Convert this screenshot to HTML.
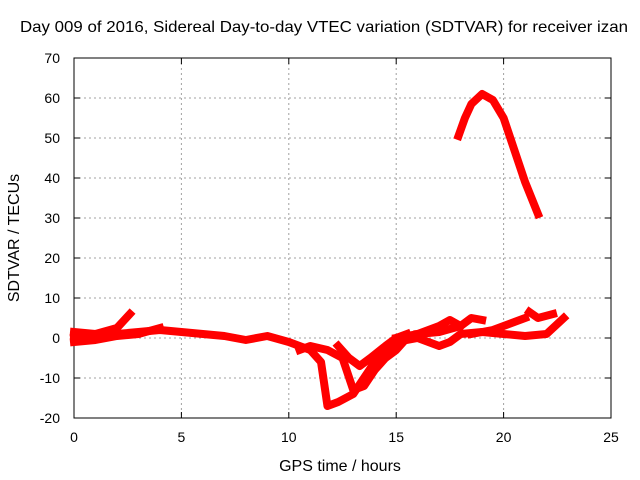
<!DOCTYPE html>
<html><head><meta charset="utf-8"><style>
body{margin:0;background:#fff}
svg{display:block;font-family:"Liberation Sans",sans-serif;font-size:14px}
</style></head><body>
<svg id="chart" width="640" height="480" viewBox="0 0 640 480">
<rect width="640" height="480" fill="#fff"/>
<text x="20" y="32" font-size="16" textLength="608" lengthAdjust="spacingAndGlyphs">Day 009 of 2016, Sidereal Day-to-day VTEC variation (SDTVAR) for receiver izan</text>
<g id="grid"></g><g id="axes"></g><g id="series"></g>
<text x="340" y="471" text-anchor="middle" font-size="16">GPS time / hours</text>
<text transform="translate(19,238) rotate(-90)" text-anchor="middle" font-size="16">SDTVAR / TECUs</text>
</svg>
<script>
const xTicks=[0,5,10,15,20,25];
const yTicks=[-20,-10,0,10,20,30,40,50,60,70];
const seriesTop=[[17.9,50.5],[18.2,55],[18.5,58.5],[19,61],[19.5,59.5],[20,55],[20.5,47],[21,39],[21.6,31]];
const seriesMain=[[0,0],[1,0.5],[2,1],[3,1.5],[4,2],[5,1.5],[6,1],[7,0.5],[8,-0.5],[9,0.5],[10,-1],[10.5,-2],[11,-3],[11.5,-6],[11.8,-17],[12.3,-16],[13,-14],[13.5,-10],[14,-6],[14.5,-4],[15,-1],[16,0],[17,-2],[17.5,-1],[18,1],[19,1.5],[20,1],[21,0.5],[22,1],[22.8,5]];
const seriesLow=[[0,-1],[1,-0.5],[2,0.5],[3,1],[4,2.5]];
const seriesEarly=[[0,1.5],[1,1],[2,2.5],[2.6,6]];
const seriesDip2=[[10.5,-3],[11,-2],[11.8,-3],[12.5,-5],[13,-13],[13.5,-12],[14,-8],[14.5,-5],[15,-3],[15.5,0]];
const seriesDip3=[[12.3,-2],[12.8,-5],[13.3,-7],[13.8,-5],[14.5,-2],[15,0],[15.5,1]];
const seriesE=[[15,0],[16,1],[17,3],[17.5,4.5],[18,3]];
const seriesF=[[16,1],[17,1.5],[18,3],[18.5,5],[19,4.5]];
const seriesG=[[18.5,1],[19.5,2],[20.5,4],[21,5]];
const seriesH=[[21.2,6.5],[21.6,5],[22.3,6]];
const seriesList=[seriesTop,seriesMain,seriesLow,seriesEarly,seriesDip2,seriesDip3,seriesE,seriesF,seriesG,seriesH];
const X=v=>74+v*(537/25), Y=v=>418-(v+20)*4;
const ns="http://www.w3.org/2000/svg";
const grid=document.getElementById('grid'),axes=document.getElementById('axes'),ser=document.getElementById('series');
function mk(tag,at,p){const e=document.createElementNS(ns,tag);for(const k in at)e.setAttribute(k,at[k]);p.appendChild(e);return e;}
xTicks.forEach(t=>{
 if(t>0&&t<25){const l=mk('line',{x1:X(t),x2:X(t),y1:58,y2:418,stroke:'#a0a0a0','stroke-dasharray':'2,3'},grid);
 
 }
 const tx=mk('text',{x:X(t),y:442,'text-anchor':'middle'},axes);tx.textContent=t;
 
 
 mk('line',{x1:X(t),x2:X(t),y1:418,y2:412,stroke:'#000'},axes);mk('line',{x1:X(t),x2:X(t),y1:58,y2:64,stroke:'#000'},axes);
});
yTicks.forEach(t=>{
 if(t>-20&&t<70){const l=mk('line',{x1:74,x2:611,y1:Y(t),y2:Y(t),stroke:'#a0a0a0','stroke-dasharray':'2,3'},grid);
 
 }
 const tx=mk('text',{x:60,y:Y(t)+5,'text-anchor':'end'},axes);tx.textContent=t;
 
 
 mk('line',{x1:74,x2:80,y1:Y(t),y2:Y(t),stroke:'#000'},axes);mk('line',{x1:611,x2:605,y1:Y(t),y2:Y(t),stroke:'#000'},axes);
});
const fr=mk('rect',{x:74,y:58,width:537,height:360,fill:'none',stroke:'#000'},axes);


seriesList.forEach(s=>{
 const p=mk('polyline',{points:s.map(d=>X(d[0])+','+Y(d[1])).join(' '),fill:'none',stroke:'#ff0000','stroke-width':8,'stroke-linejoin':'round','stroke-linecap':'square'},ser);
 
 
});
</script>
</body></html>
